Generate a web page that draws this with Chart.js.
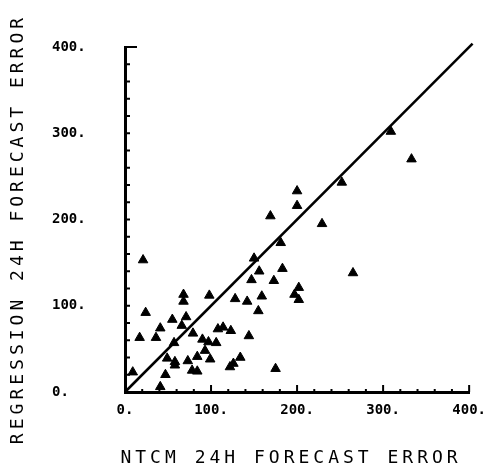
<!DOCTYPE html>
<html>
<head>
<meta charset="utf-8">
<script src="https://cdn.jsdelivr.net/npm/chart.js@4/dist/chart.umd.min.js"></script>
<style>
  html, body { margin: 0; padding: 0; background: #fff; }
  #wrap { width: 496px; height: 474px; }
</style>
</head>
<body>
<div id="wrap"><canvas id="myChart" width="496" height="474"></canvas></div>
<script>
// NTCM 24h error (x) vs regression 24h error (y)
const ntcm_err = [9, 17, 21, 24, 36, 41, 41, 47, 49, 55, 57, 58, 58, 66, 68, 68, 71, 73, 78, 79,
  84, 84, 90, 93, 98, 99, 97, 106, 108, 114, 123, 122, 126, 128, 134, 142, 144, 147, 150, 156,
  155, 159, 169, 173, 175, 181, 183, 197, 200, 200, 202, 202, 229, 252, 265, 309, 333];
const regr_err = [23, 63, 153, 92, 63, 74, 6, 20, 39, 84, 57, 35, 31, 77, 113, 105, 87, 36, 25, 68,
  24, 41, 61, 48, 112, 38, 58, 57, 73, 75, 71, 29, 33, 108, 40, 105, 65, 130, 155, 140,
  94, 111, 204, 129, 27, 173, 143, 113, 233, 216, 121, 107, 195, 243, 138, 302, 270];
// y = x reference line
const line_x = [0, 404];
const x_title = 'NTCM 24H FORECAST ERROR';
const y_title = 'REGRESSION 24H FORECAST ERROR';

const points = ntcm_err.map(function (v, i) { return { x: v, y: regr_err[i] }; });
const diag = line_x.map(function (v) { return { x: v, y: v }; });

const tickFont = { family: 'DejaVu Sans Mono', size: 14, weight: 'bold' };

// small inside ticks every 20 + axis titles
const axisDeco = {
  id: 'axisDeco',
  afterDraw(chart) {
    const ctx = chart.ctx;
    const xs = chart.scales.x, ys = chart.scales.y;
    const a = chart.chartArea;
    ctx.save();
    ctx.strokeStyle = '#000';
    ctx.lineWidth = 2;
    for (let v = 20; v <= 400; v += 20) {
      const py = ys.getPixelForValue(v);
      const len = (v === 400) ? 12 : 5;
      ctx.beginPath(); ctx.moveTo(a.left, py); ctx.lineTo(a.left + len, py); ctx.stroke();
      const px = xs.getPixelForValue(v);
      const lx = (v % 100 === 0) ? 7 : 3;
      ctx.beginPath(); ctx.moveTo(px, a.bottom); ctx.lineTo(px, a.bottom - lx); ctx.stroke();
    }
    ctx.fillStyle = '#000';
    ctx.font = '18px "DejaVu Sans Mono"';
    ctx.letterSpacing = '4px';
    ctx.textAlign = 'center';
    ctx.textBaseline = 'middle';
    ctx.fillText(x_title, (a.left + a.right) / 2 - 6, 458);
    ctx.translate(18, 229);
    ctx.rotate(-Math.PI / 2);
    ctx.fillText(y_title, 0, 0);
    ctx.restore();
  }
};

const config = {
  type: 'scatter',
  data: {
    datasets: [{
      label: 'cases',
      data: points,
      pointStyle: 'triangle',
      pointRadius: 5.5,
      backgroundColor: '#000',
      borderColor: '#000',
      borderWidth: 1
    }, {
      type: 'line',
      label: 'y=x',
      data: diag,
      borderColor: '#000',
      borderWidth: 2.5,
      pointRadius: 0,
      clip: false
    }]
  },
  options: {
    responsive: false,
    animation: false,
    layout: { padding: { left: 52, right: 23, top: 47, bottom: 0 } },
    plugins: { legend: { display: false }, tooltip: { enabled: false } },
    scales: {
      x: {
        type: 'linear', min: 0, max: 400,
        grid: { display: false, drawTicks: false },
        border: { display: true, color: '#000', width: 3 },
        ticks: { stepSize: 100, padding: 10, color: '#000', font: tickFont, maxRotation: 0,
          callback: function (v) { return v + '.'; } },
        afterFit: function (s) { s.height = 82; }
      },
      y: {
        type: 'linear', min: 0, max: 400,
        grid: { display: false, drawTicks: false },
        border: { display: true, color: '#000', width: 3 },
        ticks: { stepSize: 100, crossAlign: 'far', color: '#000', font: tickFont,
          callback: function (v) { return v + '.'; } },
        afterFit: function (s) { s.width = 73; }
      }
    }
  },
  plugins: [axisDeco]
};

new Chart(document.getElementById('myChart'), config);
</script>
</body>
</html>
